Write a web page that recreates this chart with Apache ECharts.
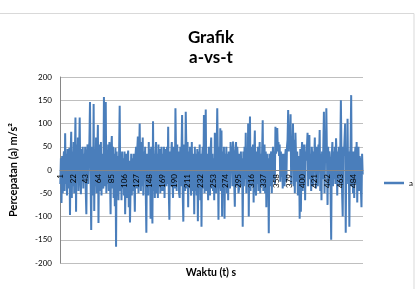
<!DOCTYPE html>
<html>
<head>
<meta charset="utf-8">
<script src="https://cdn.jsdelivr.net/npm/echarts@6/dist/echarts.min.js"></script>
<style>html,body{margin:0;padding:0;background:#fff;}#c{width:416px;height:289px;}</style>
</head>
<body>
<div id="c"></div>
<script>
var seriesName = "a";
var titleText = "Grafik\na-vs-t";
var yAxisName = "Percepatan (a) m/s\u00b2";
var xAxisName = "Waktu (t) s";
var yTicks = [-200, -150, -100, -50, 0, 50, 100, 150, 200];

var a000 = [-30, 25, -71, 30, -50, 15, 40, -45, 79, -30, 35, -55, 45, -40, 20, 48, -97, 35, 82, -60];
var a020 = [40, -35, 60, -50, 30, 113, -90, 55, -20, 70, -45, 35, 113, -15, -52, 45, -25, 50, -40, 35];
var a040 = [-20, 50, -45, -95, 35, 55, -30, 40, 60, 146, -20, -129, 50, 30, -55, 142, -88, 45, -35, 70];
var a060 = [-50, 35, 97, -114, 25, 55, -45, 60, -55, 35, -20, -40, 157, -35, 45, 146, -50, 35, -30, 55];
var a080 = [-45, 60, -10, -95, 45, 73, -40, 50, -60, 35, -78, 48, -165, 40, -40, 30, -65, 35, 138, -45];
var a100 = [35, -65, 40, -40, 25, -55, 40, -95, -15, 35, -60, 25, 42, -80, 20, -113, -35, 35, -55, 25];
var a120 = [-45, 35, -30, -90, 30, 50, -40, 45, 72, -50, 35, 100, -15, -45, 60, -35, 70, -55, 40, -20];
var a140 = [50, -45, -135, 35, -15, -55, 60, -35, 45, -105, 50, -20, -115, 105, -45, 35, -60, 40, 60, -50];
var a160 = [35, -60, 55, -35, 45, -50, 25, 50, -45, 35, -45, 50, -60, 30, 45, -35, 50, -30, 93, -45];
var a180 = [-107, 40, -35, 35, 60, -30, -60, 50, 25, -40, 133, 35, -45, 55, -20, 40, -50, -60, 50, -35];
var a200 = [40, 118, -50, -111, 55, 35, -45, 125, 50, -40, 60, -80, 40, -20, 50, -35, -55, 60, -45, 35];
var a220 = [25, -95, 50, -45, 35, -55, 45, -110, 40, -30, 55, -65, 35, -122, 25, 50, -40, 118, -50, 40];
var a240 = [130, -45, 35, -30, -65, 50, -20, -55, 40, 70, -40, 35, -45, 25, -65, 80, 35, -50, 40, 133];
var a260 = [30, -107, 50, -40, 90, -45, 85, -100, 40, -35, 50, -105, 35, -20, 50, -50, 35, -65, 40, 25];
var a280 = [-40, 60, 35, 50, -35, 61, 40, -30, -79, 35, 60, -35, 50, 25, -50, -40, 35, -30, 40, -35];
var a300 = [25, -122, 40, -35, 50, -20, 80, -50, 40, -30, 100, -100, 35, 115, -45, 50, -35, 25, 55, -70];
var a320 = [35, 85, -35, -55, 40, -30, 50, -45, 25, 60, -50, 35, -35, 40, 107, -45, 35, 55, -50, 40];
var a340 = [-80, 35, -45, 25, -136, 35, -35, 25, 40, -50, 25, 50, -20, 40, -30, 93, 35, 50, 90, 40];
var a360 = [60, 30, 55, -25, 40, -15, 35, -40, 35, 20, -35, 30, 45, -25, 50, 65, 129, 40, 85, 45];
var a380 = [120, -30, 50, 20, 100, -35, 65, -50, 80, 30, -25, 40, -55, 20, 30, -105, 45, -90, 30, 60];
var a400 = [-45, 55, -35, 55, -65, 40, 20, 50, 80, -35, 40, 75, -20, 35, -45, 50, 20, -35, 40, 25];
var a420 = [70, -25, -40, 50, 30, -35, 55, 25, 86, -45, 35, -65, 40, -20, 50, 125, -50, 35, 20, 133];
var a440 = [30, -75, 50, -35, 40, 20, -45, -150, 35, 60, -35, 40, -20, 50, -30, 68, 30, -55, 40, 20];
var a460 = [50, -35, 40, 150, 30, -50, -100, 50, 30, 65, 100, -135, 40, -30, 110, -20, 40, -122, 30, 50];
var a480 = [161, -35, 40, -50, 40, -60, 30, 50, -30, 60, -70, 30, 50, -45, 30, 20, -40, -80, 35, -10];

var values = [].concat(a000, a020, a040, a060, a080, a100, a120, a140, a160, a180,
  a200, a220, a240, a260, a280, a300, a320, a340, a360, a380,
  a400, a420, a440, a460, a480);
var categories = [];
for (var i = 1; i <= values.length; i++) categories.push(String(i));

var chart = echarts.init(document.getElementById('c'), null, {renderer: 'canvas'});
chart.setOption({
  backgroundColor: '#ffffff',
  animation: false,
  textStyle: {fontFamily: 'Lato'},
  title: {
    text: titleText,
    left: 206, top: 23, textAlign: 'center',
    textStyle: {fontFamily: 'Lato', fontWeight: 'bold', fontSize: 17, lineHeight: 20, color: '#000'}
  },
  legend: {
    data: [seriesName],
    left: 379, top: 174,
    icon: 'rect', itemWidth: 20, itemHeight: 2.5, itemGap: 4,
    textStyle: {fontFamily: 'Lato', fontSize: 8, color: '#000'}
  },
  grid: {left: 58, right: 53, top: 77, bottom: 26, containLabel: false},
  xAxis: {
    type: 'category',
    data: categories,
    boundaryGap: true,
    offset: -93,
    z: 10,
    axisLine: {onZero: false, lineStyle: {color: '#868686', width: 1}},
    axisTick: {show: false},
    axisLabel: {interval: 20, rotate: 90, fontSize: 8, color: '#000', margin: 4, fontFamily: 'Lato'},
    splitLine: {show: false}
  },
  yAxis: {
    type: 'value',
    min: yTicks[0], max: yTicks[yTicks.length - 1], interval: 50,
    name: yAxisName, nameLocation: 'middle', nameGap: 41, nameRotate: 90,
    nameTextStyle: {fontFamily: 'Lato', fontWeight: 'bold', fontSize: 11, color: '#000'},
    axisLine: {show: true, lineStyle: {color: '#868686', width: 1}},
    axisTick: {show: false},
    axisLabel: {fontSize: 8, color: '#000', margin: 8, fontFamily: 'Lato'},
    splitLine: {lineStyle: {color: '#bfbfbf', width: 1}}
  },
  graphic: [
    {type: 'rect', shape: {x: -2, y: 13.5, width: 416, height: 290}, style: {fill: 'none', stroke: '#d9d9d9', lineWidth: 1}, z: -1},
    {type: 'text', left: 13, top: -16, style: {text: '3. Pengujian III', font: 'bold 14px "Liberation Serif"', fill: '#000'}},
    {type: 'text', x: 211, y: 273, style: {text: xAxisName, font: 'bold 10.5px Lato', fill: '#000', textAlign: 'center', textVerticalAlign: 'middle'}}
  ],
  series: [{
    name: seriesName,
    type: 'line',
    data: values,
    symbol: 'none',
    showSymbol: false,
    z: 2,
    lineStyle: {color: '#4a7ebb', width: 2},
    itemStyle: {color: '#4a7ebb'}
  }]
});
</script>
</body>
</html>
